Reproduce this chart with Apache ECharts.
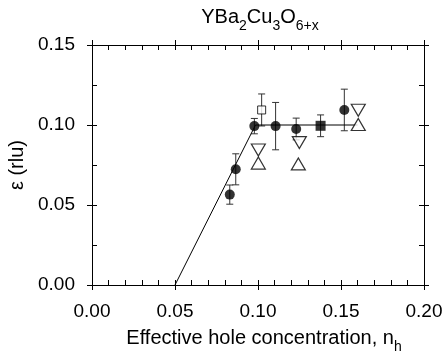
<!DOCTYPE html>
<html><head><meta charset="utf-8">
<script src="https://cdn.jsdelivr.net/npm/echarts@6/dist/echarts.min.js"></script>
<style>html,body{margin:0;padding:0;background:#fff}#c{width:444px;height:353px}</style>
</head><body><div id="c"></div>
<script>
// ---- data ----
const xTicks = [0, 0.05, 0.10, 0.15, 0.20];
const yTicks = [0, 0.05, 0.10, 0.15];

const circleX   = [0.0830, 0.0866, 0.0978, 0.1106, 0.1230, 0.1520];
const circleY   = [0.0565, 0.0723, 0.0993, 0.0993, 0.0975, 0.1094];
const circleErr = [0.0060, 0.0097, 0.0048, 0.0148, 0.0068, 0.0130];

const filledSquareX = [0.1377];
const filledSquareY = [0.0995];
const filledSquareErr = [0.0068];

const openSquareX = [0.1022];
const openSquareY = [0.1094];
const openSquareErr = [0.0100];

const downTriX = [0.1002, 0.1249, 0.1604];
const downTriY = [0.0844, 0.0890, 0.1092];
const upTriX   = [0.1002, 0.1243, 0.1604];
const upTriY   = [0.0762, 0.0757, 0.1003];

const fitX = [0.050, 0.0985, 0.160];
const fitY = [0.000, 0.1000, 0.100];

// ---- build ----
const FONT = 'Liberation Sans, Arial, Helvetica, sans-serif';
const zip = (a, b) => a.map((v, i) => [v, b[i]]);
const zip3 = (a, b, c) => a.map((v, i) => [v, b[i], c[i]]);

const xMin = xTicks[0], xMax = xTicks[xTicks.length - 1], xInt = xTicks[1] - xTicks[0];
const yMin = yTicks[0], yMax = yTicks[yTicks.length - 1], yInt = yTicks[1] - yTicks[0];

function makeAxis(kind, pos, inner, withLabel) {
  const isX = kind === 'x';
  const ax = {
    type: 'value', position: pos,
    min: isX ? xMin : yMin, max: isX ? xMax : yMax, interval: isX ? xInt : yInt,
    splitLine: { show: false },
    axisLine: { show: inner, onZero: false, lineStyle: { color: '#000', width: 1 } },
    axisTick: { show: true, inside: inner, length: 5, lineStyle: { color: '#000', width: 1 } },
    minorTick: { show: inner, splitNumber: isX ? 5 : 2, length: 5, lineStyle: { color: '#000', width: 1 } },
    axisLabel: { show: withLabel }
  };
  if (withLabel) {
    ax.axisLabel = {
      show: true, color: '#000', fontFamily: FONT, fontSize: 19, margin: 17,
      formatter: v => v.toFixed(2)
    };
  }
  return ax;
}

const xAxes = [
  makeAxis('x', 'bottom', true, true),
  makeAxis('x', 'bottom', false, false),
  makeAxis('x', 'top', true, false),
  makeAxis('x', 'top', false, false)
];
const yAxes = [
  makeAxis('y', 'left', true, true),
  makeAxis('y', 'left', false, false),
  makeAxis('y', 'right', true, false),
  makeAxis('y', 'right', false, false)
];
xAxes[0].name = '{m|Effective hole concentration, n}{s|h}';
xAxes[0].nameLocation = 'middle';
xAxes[0].nameGap = 49;
xAxes[0].nameTextStyle = {
  padding: [0, 0, 0, 12],
  rich: {
    m: { fontFamily: FONT, fontSize: 20, lineHeight: 20, color: '#000', padding: [0, 0, 6, 0], verticalAlign: 'bottom' },
    s: { fontFamily: FONT, fontSize: 14, lineHeight: 14, color: '#000', verticalAlign: 'bottom' }
  }
};
yAxes[0].name = 'ε (rlu)';
yAxes[0].nameLocation = 'middle';
yAxes[0].nameGap = 62;
yAxes[0].nameTextStyle = { fontFamily: FONT, fontSize: 20, color: '#000' };

const ERR_COLOR = '#333';
function errRender(params, api) {
  const x = api.value(0), y = api.value(1), e = api.value(2);
  const t = api.coord([x, y + e]);
  const b = api.coord([x, y - e]);
  const c = 3.5;
  const st = { stroke: ERR_COLOR, lineWidth: 1 };
  return {
    type: 'group', children: [
      { type: 'line', shape: { x1: t[0], y1: t[1], x2: b[0], y2: b[1] }, style: st },
      { type: 'line', shape: { x1: t[0] - c, y1: t[1], x2: t[0] + c, y2: t[1] }, style: st },
      { type: 'line', shape: { x1: b[0] - c, y1: b[1], x2: b[0] + c, y2: b[1] }, style: st }
    ]
  };
}

const errData = zip3(circleX, circleY, circleErr)
  .concat(zip3(filledSquareX, filledSquareY, filledSquareErr))
  .concat(zip3(openSquareX, openSquareY, openSquareErr));

const option = {
  backgroundColor: '#fff',
  animation: false,
  grid: { left: 92, right: 20, top: 45, bottom: 68, containLabel: false, outerBoundsMode: 'none' },
  xAxis: xAxes,
  yAxis: yAxes,
  graphic: [{
    type: 'text', x: 260, y: 13,
    style: {
      text: '{m|YBa}{s|2}{m|Cu}{s|3}{m|O}{s|6+x}',
      align: 'center', verticalAlign: 'top',
      rich: {
        m: { fontFamily: FONT, fontSize: 20, lineHeight: 20, fill: '#000', padding: [0, 0, 6, 0], verticalAlign: 'bottom' },
        s: { fontFamily: FONT, fontSize: 14, lineHeight: 14, fill: '#000', verticalAlign: 'bottom' }
      }
    }
  }],
  series: [
    { type: 'custom', renderItem: errRender, data: errData, z: 1, silent: true },
    { type: 'line', data: zip(fitX, fitY), symbol: 'none', lineStyle: { color: '#000', width: 1 }, z: 2, silent: true },
    { type: 'scatter', data: zip(downTriX, downTriY), symbol: 'triangle', symbolRotate: 180, symbolSize: [14, 12],
      itemStyle: { color: '#fff', borderColor: '#000', borderWidth: 1.2 }, z: 3 },
    { type: 'scatter', data: zip(upTriX, upTriY), symbol: 'triangle', symbolSize: [14, 12],
      itemStyle: { color: '#fff', borderColor: '#000', borderWidth: 1.2 }, z: 3 },
    { type: 'scatter', data: zip(openSquareX, openSquareY), symbol: 'rect', symbolSize: 8,
      itemStyle: { color: '#fff', borderColor: '#000', borderWidth: 1 }, z: 3 },
    { type: 'scatter', data: zip(filledSquareX, filledSquareY), symbol: 'rect', symbolSize: 10,
      itemStyle: { color: '#000' }, z: 3 },
    { type: 'scatter', data: zip(circleX, circleY), symbol: 'circle', symbolSize: 10,
      itemStyle: { color: '#000' }, z: 4 }
  ]
};
const chart = echarts.init(document.getElementById('c'), null, { renderer: 'canvas' });
chart.setOption(option);
</script>
</body></html>
